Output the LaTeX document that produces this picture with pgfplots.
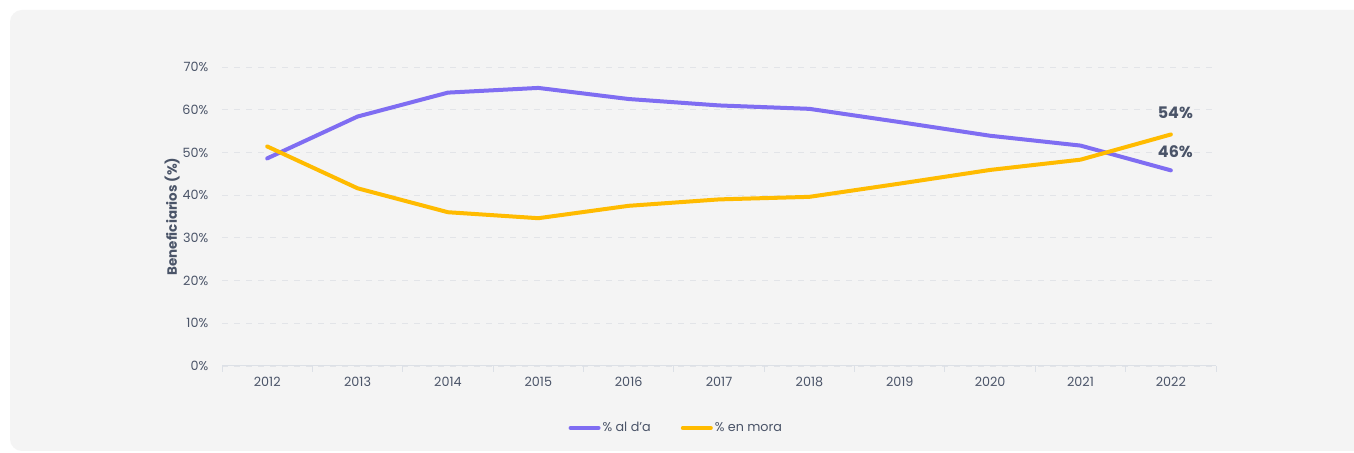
\documentclass[border=0pt]{standalone}
\usepackage{pgfplots}
\pgfplotsset{compat=1.18}
\usepackage{fontspec}
\setmainfont{Poppins}
\definecolor{panel}{HTML}{F4F4F4}
\definecolor{txt}{HTML}{4A5468}
\definecolor{lblue}{HTML}{7F6DF2}
\definecolor{lyellow}{HTML}{FFBB00}
\definecolor{gridc}{HTML}{E2E4E8}
\definecolor{axc}{HTML}{DCE0E6}
\begin{document}
\begin{tikzpicture}[x=1bp,y=1bp]
\useasboundingbox (0,0) rectangle (1354,453);
\fill[white] (0,0) rectangle (1354,453);
\begin{scope}
\clip (0,0) rectangle (1354,453);
\fill[panel,rounded corners=12bp] (10,2) rectangle (1370,443);
\end{scope}
\begin{axis}[
  at={(267.2bp,87bp)}, anchor=origin,
  scale only axis, width=994bp, height=299bp,
  xmin=-0.5, xmax=10.5, ymin=0, ymax=70,
  xtick={0,...,10},
  xticklabels={2012,2013,2014,2015,2016,2017,2018,2019,2020,2021,2022},
  minor xtick={-0.5,0.5,...,10.5},
  ytick={0,10,...,70},
  yticklabel={\pgfmathprintnumber{\tick}\%},
  /pgf/number format/assume math mode=true,
  ticklabel style={font=\fontsize{12.8}{14}\selectfont, text=txt},
  axis x line*=bottom, axis y line*=left,
  x axis line style={axc, line width=1bp},
  y axis line style={draw=none},
  major x tick style={draw=none},
  major y tick style={draw=none},
  minor x tick style={axc, line width=1bp},
  minor tick length=6bp,
  tick align=outside,
  xticklabel style={yshift=-3bp},
  yticklabel style={xshift=-6bp},
  ymajorgrids, grid style={gridc, dash pattern=on 6bp off 6bp, line width=0.8bp},
  ylabel={\bfseries Beneficiarios (\%)},
  ylabel style={font=\fontsize{13.5}{15}\selectfont, text=txt, yshift=-4bp},
  legend style={at={(0.457,-0.207)}, anchor=center, draw=none, fill=none,
    legend columns=2, font=\fontsize{12.8}{14}\selectfont, text=txt,
    /tikz/every even column/.append style={column sep=28bp}},
  legend image code/.code={\draw[#1, line width=4bp, line cap=round] (0bp,0bp) -- (28bp,0bp);},
  clip=false,
]
\addplot[lblue, line width=4bp, line join=round, line cap=round] coordinates {
(0,48.6) (1,58.4) (2,64.0) (3,65.1) (4,62.5) (5,61.0) (6,60.2) (7,57.1) (8,53.9) (9,51.6) (10,45.8)};
\addlegendentry{\% al d’a}
\addplot[lyellow, line width=4bp, line join=round, line cap=round] coordinates {
(0,51.4) (1,41.6) (2,36.0) (3,34.6) (4,37.5) (5,39.0) (6,39.6) (7,42.7) (8,45.9) (9,48.3) (10,54.2)};
\addlegendentry{\% en mora}
\node[font=\fontsize{16}{18}\selectfont\bfseries, text=txt] at (axis cs:10.05,59.3) {54\%};
\node[font=\fontsize{16}{18}\selectfont\bfseries, text=txt] at (axis cs:10.05,50.2) {46\%};
\end{axis}
\end{tikzpicture}
\end{document}
